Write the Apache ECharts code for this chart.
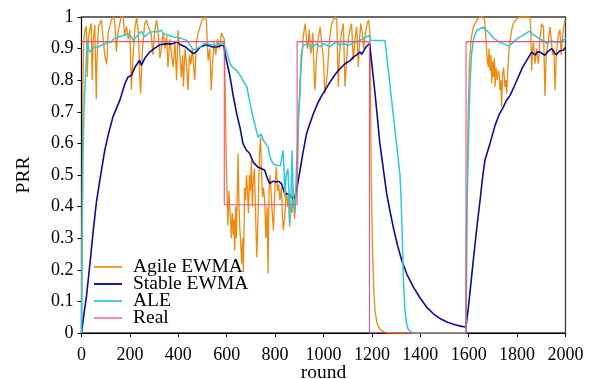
<!DOCTYPE html>
<html><head><meta charset="utf-8">
<script src="https://cdn.jsdelivr.net/npm/echarts@6/dist/echarts.min.js"></script>
<style>html,body{margin:0;padding:0;background:#fff}#c{width:593px;height:379px}</style>
</head><body><div id="c"></div>
<script>
const seriesNames = ['Agile EWMA', 'Stable EWMA', 'ALE', 'Real'];
const xTicks = [0, 200, 400, 600, 800, 1000, 1200, 1400, 1600, 1800, 2000];
const yTicks = [0, 0.1, 0.2, 0.3, 0.4, 0.5, 0.6, 0.7, 0.8, 0.9, 1];

const agileEwma = [
[0,0],[3,0.45],[6,0.8],[10,0.93],[15,0.96],[20,0.97],[24,0.81],[28,0.93],[34,0.96],[40,0.98],[44,0.8],[48,0.92],[55,0.975],[61,0.74],[64,0.86],[70,0.97],[82,0.99],[90,0.99],[96,0.88],[104,0.85],[110,0.95],[123,0.99],[131,1.0],[137,0.99],[144,0.89],[150,0.95],[164,1.0],[173,1.0],[178,0.94],[186,0.97],[193,0.93],[200,0.96],[206,0.77],[212,0.86],[220,0.96],[228,1.0],[235,0.95],[240,0.83],[244,0.757],[252,0.9],[261,0.98],[269,0.99],[275,0.97],[288,0.947],[295,0.88],[302,0.95],[310,0.99],[316,0.96],[324,0.87],[330,0.875],[338,0.95],[345,0.9],[352,0.94],[357,0.84],[365,0.93],[372,0.88],[379,0.842],[386,0.92],[393,0.8],[399,0.958],[405,0.9],[412,0.81],[418,0.88],[421,0.78],[428,0.9],[434,0.85],[440,0.768],[446,0.88],[452,0.85],[458,0.9],[468,0.8],[475,0.92],[482,0.95],[490,0.97],[498,0.99],[510,1.0],[516,0.99],[523,0.863],[530,0.9],[536,0.768],[542,0.86],[548,0.92],[555,0.88],[562,0.93],[570,0.9],[578,0.95],[585,0.937],[590,0.93],
[594,0.75],[598,0.55],[602,0.43],[605,0.34],[609,0.45],[612,0.4],[616,0.36],[619,0.3],[623,0.38],[627,0.31],[630,0.36],[633,0.262],[637,0.4],[640,0.3],[644,0.45],[647,0.568],[651,0.4],[654,0.336],[658,0.28],[662,0.22],[666,0.3],[669,0.193],[672,0.35],[674,0.46],[678,0.42],[682,0.5],[686,0.45],[690,0.38],[694,0.5],[698,0.45],[702,0.547],[706,0.4],[710,0.48],[714,0.52],[718,0.42],[724,0.24],[729,0.35],[733,0.5],[736,0.578],[740,0.62],[744,0.5],[748,0.43],[752,0.46],[757,0.42],[762,0.3],[767,0.4],[771,0.188],[775,0.45],[779,0.5],[784,0.44],[788,0.38],[793,0.325],[798,0.44],[805,0.525],[810,0.45],[815,0.47],[820,0.42],[826,0.46],[830,0.38],[834,0.325],[840,0.367],[846,0.45],[852,0.4],[856,0.44],[860,0.336],[865,0.4],[870,0.38],[875,0.46],[880,0.36],[885,0.42],[890,0.45],
[894,0.55],[898,0.7],[903,0.8],[910,0.863],[916,0.937],[924,0.979],[930,0.979],[934,0.9],[937,0.916],[941,0.96],[947,0.884],[951,0.9],[956,0.95],[962,0.8],[965,0.768],[970,0.86],[978,0.93],[986,0.968],[992,0.92],[999,0.873],[1006,0.757],[1010,0.752],[1016,0.82],[1022,0.9],[1028,0.95],[1034,0.979],[1047,1.0],[1055,0.99],[1061,0.779],[1066,0.88],[1074,0.95],[1082,0.979],[1089,0.779],[1094,0.85],[1102,0.93],[1110,0.965],[1116,0.979],[1123,0.863],[1130,0.93],[1137,0.968],[1144,0.842],[1149,0.93],[1154,0.979],[1160,0.95],[1166,0.9],[1172,0.94],[1180,0.98],[1187,0.99],
[1192,0.95],[1194,0.8],[1197,0.5],[1203,0.25],[1208,0.13],[1213,0.07],[1220,0.035],[1230,0.015],[1245,0.005],[1265,0],[1400,0],[1588,0],
[1590,0.3],[1594,0.47],[1598,0.7],[1603,0.85],[1610,0.93],[1619,0.968],[1633,0.99],[1645,1.0],[1660,1.0],[1666,0.99],[1671,0.937],[1674,0.895],[1677,0.863],[1681,0.842],[1684,0.9],[1688,0.83],[1692,0.88],[1695,0.79],[1699,0.86],[1702,0.81],[1706,0.87],[1709,0.779],[1713,0.84],[1717,0.8],[1722,0.83],[1726,0.82],[1729,0.768],[1733,0.8],[1736,0.715],[1740,0.82],[1744,0.84],[1750,0.779],[1754,0.8],[1757,0.757],[1762,0.84],[1767,0.9],[1772,0.93],[1778,0.96],[1784,0.979],[1791,0.985],[1800,0.995],[1812,1.0],[1830,1.0],[1853,1.0],[1857,0.95],[1860,0.83],[1864,0.9],[1868,0.92],[1874,0.852],[1880,0.9],[1888,0.852],[1894,0.93],[1902,0.979],[1909,0.968],[1915,0.75],[1920,0.88],[1928,0.92],[1936,0.968],[1943,0.968],[1947,0.88],[1952,0.9],[1957,0.768],[1962,0.88],[1970,0.94],[1977,0.96],[1982,0.88],[1988,0.94],[1993,0.97],[1998,0.99],[2000,0.99]
];

const stableEwma = [
[0,0],[10,0.06],[21,0.12],[35,0.22],[48,0.32],[61,0.41],[75,0.48],[96,0.578],[113,0.635],[130,0.684],[158,0.736],[180,0.79],[192,0.81],[206,0.815],[220,0.84],[240,0.863],[247,0.847],[262,0.87],[282,0.889],[300,0.9],[323,0.912],[350,0.915],[375,0.915],[393,0.921],[410,0.912],[430,0.905],[445,0.895],[462,0.884],[475,0.89],[490,0.905],[517,0.912],[540,0.905],[559,0.905],[575,0.91],[588,0.91],
[593,0.885],[600,0.86],[614,0.81],[627,0.75],[641,0.695],[655,0.65],[667,0.6],[680,0.58],[695,0.568],[710,0.54],[729,0.525],[745,0.52],[757,0.515],[768,0.49],[777,0.473],[790,0.48],[805,0.478],[815,0.48],[826,0.473],[840,0.441],[855,0.44],[867,0.43],[880,0.425],[888,0.43],
[893,0.47],[903,0.515],[915,0.57],[930,0.631],[945,0.665],[958,0.694],[975,0.725],[993,0.752],[1006,0.768],[1027,0.794],[1045,0.815],[1061,0.831],[1068,0.825],[1089,0.852],[1095,0.848],[1110,0.862],[1123,0.873],[1140,0.882],[1151,0.889],[1158,0.882],[1175,0.905],[1190,0.916],
[1200,0.85],[1213,0.758],[1233,0.6],[1247,0.52],[1261,0.441],[1275,0.385],[1288,0.336],[1305,0.28],[1323,0.23],[1345,0.185],[1371,0.146],[1400,0.11],[1426,0.082],[1455,0.06],[1481,0.046],[1510,0.035],[1543,0.026],[1570,0.021],[1589,0.019],
[1600,0.09],[1619,0.23],[1633,0.33],[1647,0.42],[1657,0.49],[1667,0.547],[1688,0.6],[1709,0.657],[1725,0.69],[1743,0.715],[1755,0.735],[1771,0.752],[1788,0.78],[1805,0.81],[1822,0.84],[1840,0.863],[1860,0.889],[1874,0.88],[1885,0.89],[1895,0.889],[1915,0.879],[1930,0.893],[1943,0.9],[1961,0.88],[1977,0.893],[1990,0.895],[2000,0.903]
];

const ale = [
[0,0],[3,0.3],[6,0.547],[10,0.7],[16,0.81],[21,0.885],[24,0.926],[28,0.9],[34,0.889],[45,0.9],[55,0.905],[70,0.905],[82,0.91],[90,0.916],[110,0.92],[123,0.921],[131,0.93],[151,0.937],[178,0.942],[190,0.947],[206,0.937],[214,0.926],[230,0.94],[247,0.955],[261,0.937],[275,0.948],[290,0.953],[310,0.953],[330,0.958],[338,0.947],[360,0.942],[379,0.937],[400,0.935],[420,0.93],[435,0.926],[450,0.91],[462,0.895],[475,0.9],[490,0.905],[505,0.915],[517,0.916],[535,0.912],[559,0.91],[575,0.915],[588,0.918],
[592,0.921],[600,0.89],[614,0.852],[625,0.84],[641,0.831],[660,0.81],[674,0.79],[683,0.78],[702,0.705],[715,0.665],[729,0.62],[743,0.63],[751,0.61],[771,0.589],[779,0.557],[791,0.536],[806,0.53],[812,0.525],[822,0.53],[833,0.578],[838,0.5],[840,0.43],[846,0.5],[853,0.52],[857,0.45],[860,0.346],[865,0.41],[870,0.578],[874,0.45],[878,0.4],[882,0.38],[886,0.47],[889,0.53],
[893,0.6],[896,0.684],[903,0.758],[908,0.88],[916,0.91],[937,0.916],[950,0.9],[962,0.91],[972,0.916],[985,0.905],[1000,0.916],[1015,0.91],[1027,0.905],[1040,0.915],[1055,0.921],[1068,0.91],[1082,0.916],[1100,0.91],[1123,0.918],[1151,0.926],[1170,0.935],[1189,0.942],[1195,0.926],[1254,0.926],
[1316,0.5],[1320,0.44],[1325,0.32],[1330,0.17],[1336,0.08],[1343,0.03],[1350,0.012],[1360,0.004],[1371,0],[1500,0],[1589,0],
[1594,0.43],[1602,0.705],[1606,0.8],[1612,0.884],[1620,0.93],[1633,0.958],[1660,0.968],[1670,0.96],[1688,0.947],[1700,0.935],[1716,0.926],[1729,0.92],[1745,0.915],[1764,0.908],[1771,0.905],[1785,0.92],[1798,0.93],[1820,0.94],[1840,0.95],[1853,0.956],[1865,0.945],[1881,0.937],[1895,0.93],[1910,0.925],[1922,0.916],[1940,0.925],[1960,0.92],[1977,0.922],[1990,0.928],[2000,0.93]
];

const real = [
[0,0.922],[590,0.922],[590,0.406],[891,0.406],[891,0.922],[1190,0.922],[1190,0],[1589,0],[1589,0.922],[2000,0.922]
];

const colors = ['#ef8a10', '#0c0c92', '#2ec8d8', '#ec4f86'];
const legendColors = ['#f29a35', '#1a1a9c', '#45d0dd', '#f38db0'];
const widths = [1.3, 1.6, 1.5, 1.1];
const datasets = [agileEwma, stableEwma, ale, real];
const FONT = 'Liberation Serif';

const chart = echarts.init(document.getElementById('c'), null, {renderer: 'canvas'});
chart.setOption({
  animation: false,
  backgroundColor: '#fff',
  grid: {left: 81.5, right: 27.5, top: 17, bottom: 46, show: true, borderColor: '#3a3a3a', borderWidth: 1.3,
    containLabel: false, outerBoundsMode: 'none'},
  legend: {
    data: seriesNames.map((n, i) => ({name: n, itemStyle: {color: legendColors[i]}})),
    orient: 'vertical', left: 94, top: 257, itemGap: -3, padding: 0,
    icon: 'rect', itemWidth: 28, itemHeight: 2,
    textStyle: {fontFamily: FONT, fontSize: 19.5, color: '#000', padding: [0,0,0,6]}
  },
  xAxis: {
    type: 'value', min: 0, max: 2000, interval: 200,
    name: 'round', nameLocation: 'middle', nameGap: 30, nameMoveOverlap: false,
    nameTextStyle: {fontFamily: FONT, fontSize: 19.5, color: '#000'},
    axisLine: {lineStyle: {color: '#000', width: 1}},
    axisTick: {length: 4, lineStyle: {color: '#000'}},
    axisLabel: {fontFamily: FONT, fontSize: 18, color: '#000', margin: 13,
      formatter: v => String(v)},
    splitLine: {show: false}
  },
  yAxis: {
    type: 'value', min: 0, max: 1, interval: 0.1,
    name: 'PRR', nameLocation: 'middle', nameGap: 48,
    nameTextStyle: {fontFamily: FONT, fontSize: 19.5, color: '#000'},
    axisLine: {show: true, lineStyle: {color: '#000', width: 1}},
    axisTick: {show: true, length: 4, lineStyle: {color: '#000'}},
    axisLabel: {fontFamily: FONT, fontSize: 18, color: '#000', margin: 8,
      formatter: v => String(+v.toFixed(1))},
    splitLine: {show: false}
  },
  series: seriesNames.map((n, i) => ({
    name: n, type: 'line', data: datasets[i], symbol: 'none', showSymbol: false,
    lineStyle: {color: colors[i], width: widths[i]}, itemStyle: {color: colors[i]},
    z: 2 + i
  }))
});
</script></body></html>
